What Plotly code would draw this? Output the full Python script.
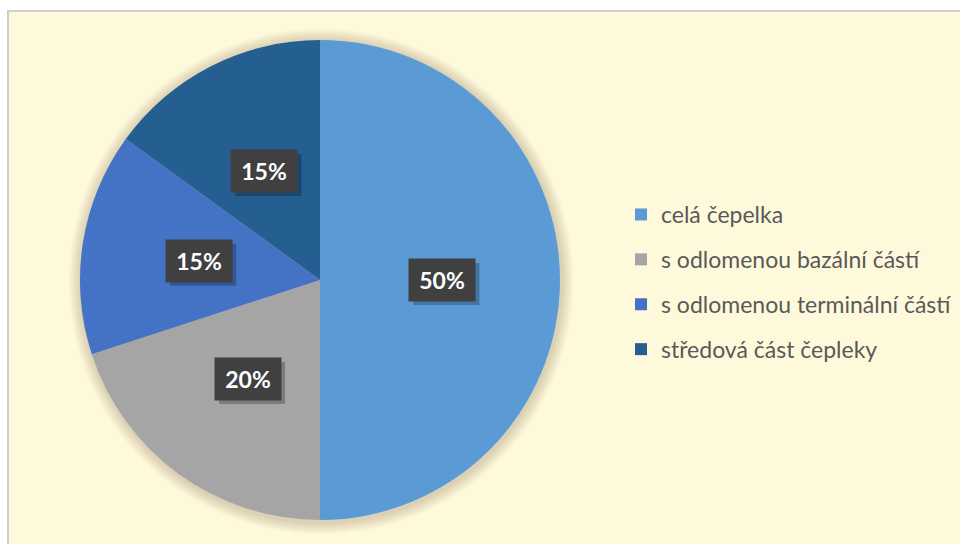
import math
import plotly.graph_objects as go

# Composition of blade fragments (percent)
labels = ["celá čepelka", "s odlomenou bazální částí", "s odlomenou terminální částí", "středová část čepleky"]
values = [50, 20, 15, 15]
colors = ["#5B9BD5", "#A5A5A5", "#4472C4", "#255E91"]

W, H = 960, 544
CX, CY, R = 320, 280, 240  # pie centre and radius in pixels
BOX_W, BOX_H, PAD = 58, 34, 4  # data-label box (text area and padding)


def px(x):
    return x / W


def py(y):
    return 1 - y / H


fig = go.Figure()

fig.add_trace(go.Pie(
    labels=labels,
    values=values,
    sort=False,
    direction="clockwise",
    rotation=0,
    marker=dict(colors=colors, line=dict(width=0)),
    textinfo="none",
    hoverinfo="label+percent",
    showlegend=False,
    domain=dict(x=[px(CX - R), px(CX + R)], y=[py(CY + R), py(CY - R)]),
))

# Legend entries as marker-only traces so their spacing can be controlled
for lab, col in zip(labels, colors):
    fig.add_trace(go.Scatter(
        x=[None], y=[None], mode="markers", name=lab, legendgroup=lab,
        marker=dict(symbol="square", size=12, color=col),
    ))

shapes = [
    # chart area: cream panel with a thin grey frame
    dict(type="rect", xref="paper", yref="paper", x0=px(8), x1=1.05, y0=-0.05, y1=py(11),
         fillcolor="#FFF9DC", line=dict(color="#CFCFCF", width=2), layer="below"),
]
# soft shadow around the pie
for k in range(6, 0, -1):
    d = 2 * k
    shapes.append(dict(type="circle", xref="paper", yref="paper",
                       x0=px(CX - R - d + 1), x1=px(CX + R + d + 1),
                       y0=py(CY + R + d + 2), y1=py(CY - R - d + 1),
                       fillcolor="rgba(90,70,20,0.035)", line=dict(width=0), layer="below"))

# Data labels in dark boxes at each slice's mid-angle, with a drop shadow
annotations = []
total = sum(values)
cum = 0
hw, hh = BOX_W / 2 + PAD, BOX_H / 2 + PAD
for v in values:
    mid = (cum + v / 2) / total * 2 * math.pi
    cum += v
    d = 0.51 * R
    x = CX + d * math.sin(mid)
    y = CY - d * math.cos(mid)
    shapes.append(dict(type="rect", xref="paper", yref="paper",
                       x0=px(x - hw + 4), x1=px(x + hw + 4),
                       y0=py(y + hh + 4), y1=py(y - hh + 4),
                       fillcolor="rgba(0,0,0,0.25)", line=dict(width=0), layer="above"))
    annotations.append(dict(x=px(x), y=py(y), xref="paper", yref="paper",
                            xanchor="center", yanchor="middle",
                            text=f"<b>{round(v / total * 100)}%</b>", showarrow=False,
                            width=BOX_W, height=BOX_H, borderpad=PAD,
                            bgcolor="#404040", font=dict(family="Lato", size=23, color="#FFFFFF")))

fig.update_layout(
    width=W, height=H,
    margin=dict(l=0, r=0, t=0, b=0),
    paper_bgcolor="#FFFFFF",
    plot_bgcolor="rgba(0,0,0,0)",
    xaxis=dict(visible=False),
    yaxis=dict(visible=False),
    shapes=shapes,
    annotations=annotations,
    showlegend=True,
    legend=dict(
        x=px(621), y=py(193), xanchor="left", yanchor="top",
        bgcolor="rgba(0,0,0,0)", borderwidth=0,
        font=dict(family="Lato", size=23, color="#595959"),
        tracegroupgap=12, traceorder="grouped",
    ),
)

fig.write_html("out.html")
